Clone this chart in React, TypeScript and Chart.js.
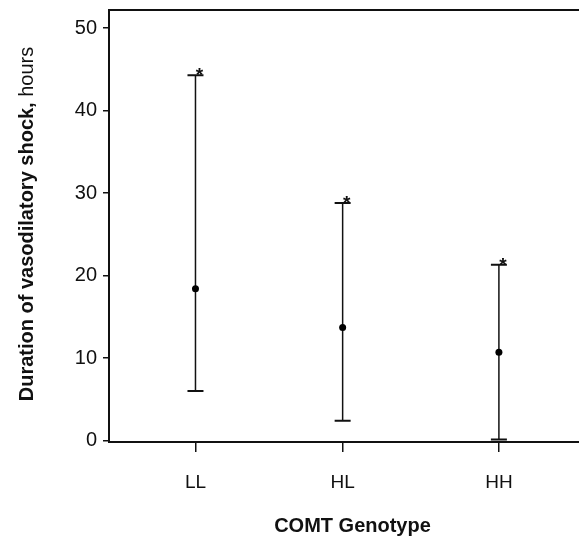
import React, { useEffect, useRef } from 'react';
import { Chart, registerables } from 'chart.js';

Chart.register(...registerables);

const genotypes = ['LL', 'HL', 'HH'];
const genotypePositions = [1, 1.97, 3];
const meanHours = [18.4, 13.7, 10.7];
const upperHours = [44.3, 28.8, 21.3];
const lowerHours = [6.0, 2.4, 0.12];
const yTickValues = [0, 10, 20, 30, 40, 50];

const FONT = "'Liberation Sans', Arial, sans-serif";
const INK = '#111';

const errorBarPlugin = {
  id: 'errorBars',
  beforeDatasetsDraw(chart: any) {
    const { ctx, scales } = chart;
    const xs = scales.x;
    const ys = scales.y;
    ctx.save();
    ctx.strokeStyle = INK;
    ctx.fillStyle = INK;
    genotypePositions.forEach((pos, i) => {
      const x = xs.getPixelForValue(pos);
      const yHi = ys.getPixelForValue(upperHours[i]);
      const yLo = ys.getPixelForValue(lowerHours[i]);
      ctx.lineWidth = 1.5;
      ctx.beginPath();
      ctx.moveTo(x, yHi);
      ctx.lineTo(x, yLo);
      ctx.stroke();
      ctx.lineWidth = 2;
      ctx.beginPath();
      ctx.moveTo(x - 8, yHi);
      ctx.lineTo(x + 8, yHi);
      ctx.moveTo(x - 8, yLo);
      ctx.lineTo(x + 8, yLo);
      ctx.stroke();
      ctx.font = `bold 19px ${FONT}`;
      ctx.textAlign = 'center';
      ctx.textBaseline = 'alphabetic';
      ctx.fillText('*', x + 4, yHi + 6);
    });
    ctx.restore();
  },
  afterDraw(chart: any) {
    const { ctx, chartArea } = chart;
    ctx.save();
    // top frame line
    ctx.strokeStyle = INK;
    ctx.lineWidth = 2;
    ctx.beginPath();
    ctx.moveTo(chartArea.left - 1, chartArea.top);
    ctx.lineTo(chartArea.right, chartArea.top);
    ctx.stroke();
    // y axis title with mixed weights
    const boldPart = 'Duration of vasodilatory shock,';
    const normalPart = ' hours';
    const cy = (chartArea.top + chartArea.bottom) / 2 - 2;
    ctx.translate(27, cy);
    ctx.rotate(-Math.PI / 2);
    ctx.fillStyle = INK;
    ctx.textBaseline = 'middle';
    ctx.textAlign = 'left';
    ctx.font = `bold 20px ${FONT}`;
    const w1 = ctx.measureText(boldPart).width;
    ctx.font = `20px ${FONT}`;
    const w2 = ctx.measureText(normalPart).width;
    const start = -(w1 + w2) / 2;
    ctx.font = `bold 20px ${FONT}`;
    ctx.fillText(boldPart, start, 0);
    ctx.font = `20px ${FONT}`;
    ctx.fillText(normalPart, start + w1, 0);
    ctx.restore();
  },
};

export default function App() {
  const canvasRef = useRef<HTMLCanvasElement | null>(null);

  useEffect(() => {
    if (!canvasRef.current) return;
    const chart = new Chart(canvasRef.current, {
      type: 'scatter',
      data: {
        datasets: [
          {
            data: genotypePositions.map((x, i) => ({ x, y: meanHours[i] })),
            pointRadius: 3.5,
            pointBackgroundColor: '#000',
            pointBorderColor: '#000',
            pointBorderWidth: 0,
            showLine: false,
          },
        ],
      },
      options: {
        animation: false,
        responsive: true,
        maintainAspectRatio: false,
        layout: { padding: { top: 10, left: 0, right: 0, bottom: 0 } },
        plugins: { legend: { display: false }, tooltip: { enabled: false } },
        scales: {
          x: {
            type: 'linear',
            min: 0.43,
            max: 3.64,
            afterBuildTicks: (s: any) => {
              s.ticks = genotypePositions.map((v) => ({ value: v }));
            },
            afterFit: (s: any) => {
              s.height = 98;
              s.paddingLeft = 0;
              s.paddingRight = 0;
            },
            grid: {
              display: true,
              drawOnChartArea: false,
              drawTicks: true,
              tickLength: 10,
              color: INK,
              lineWidth: 1.5,
            },
            border: { display: true, color: INK, width: 2 },
            ticks: {
              callback: (_v: any, i: number) => genotypes[i],
              font: { family: FONT, size: 19 },
              color: INK,
              padding: 19,
              maxRotation: 0,
              autoSkip: false,
            },
            title: {
              display: true,
              text: 'COMT Genotype',
              font: { family: FONT, size: 20, weight: 'bold' },
              color: INK,
              padding: { top: 0, bottom: 2 },
            },
          },
          y: {
            min: -0.18,
            max: 52.2,
            afterBuildTicks: (s: any) => {
              s.ticks = yTickValues.map((v) => ({ value: v }));
            },
            afterFit: (s: any) => {
              s.width = 109;
              s.paddingTop = 0;
              s.paddingBottom = 0;
            },
            grid: {
              display: true,
              drawOnChartArea: false,
              drawTicks: true,
              tickLength: 6,
              color: INK,
              lineWidth: 1.5,
            },
            border: { display: true, color: INK, width: 2 },
            ticks: {
              font: { family: FONT, size: 20 },
              color: INK,
              padding: 6,
            },
          },
        },
      },
      plugins: [errorBarPlugin],
    } as any);
    return () => chart.destroy();
  }, []);

  return (
    <div
      style={{
        position: 'fixed',
        left: 0,
        top: 0,
        width: 579,
        height: 540,
        overflow: 'hidden',
        background: '#fff',
      }}
    >
      <div style={{ position: 'relative', width: 600, height: 540 }}>
        <canvas ref={canvasRef} />
      </div>
    </div>
  );
}
